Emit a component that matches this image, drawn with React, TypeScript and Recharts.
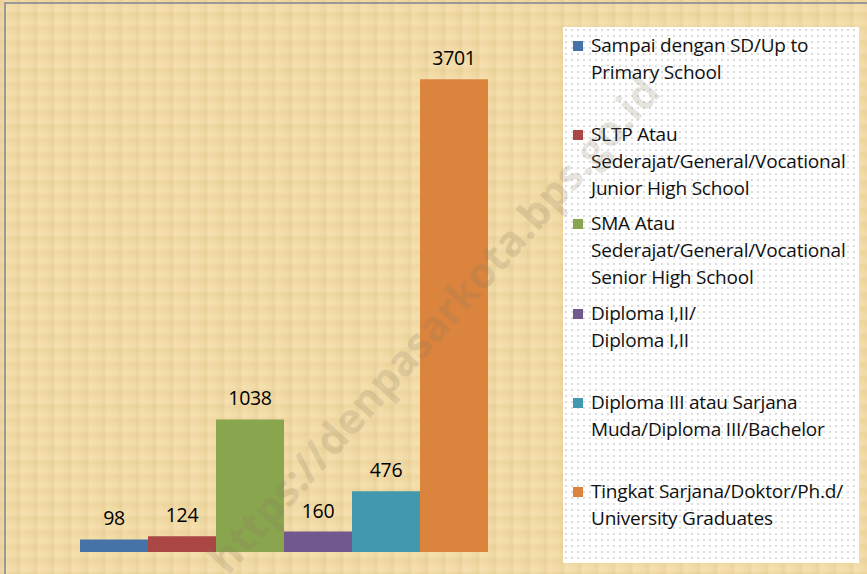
import { Bar, BarChart, LabelList, XAxis, YAxis } from "recharts";

const seriesNames = [
  ["Sampai dengan SD/Up to", "Primary School"],
  ["SLTP Atau", "Sederajat/General/Vocational", "Junior High School"],
  ["SMA Atau", "Sederajat/General/Vocational", "Senior High School"],
  ["Diploma I,II/", "Diploma I,II"],
  ["Diploma III atau Sarjana", "Muda/Diploma III/Bachelor"],
  ["Tingkat Sarjana/Doktor/Ph.d/", "University Graduates"],
];
const seriesKeys = ["sd", "sltp", "sma", "d12", "d3", "s1"];
const seriesValues = [98, 124, 1038, 160, 476, 3701];
const seriesColors = ["#4572a7", "#aa4643", "#89a54e", "#71588f", "#4198af", "#db843d"];

const row: { [k: string]: string | number } = { name: "2020" };
seriesKeys.forEach((k, i) => {
  row[k] = seriesValues[i];
});
const data = [row];

const font = "'Open Sans', 'Noto Sans', sans-serif";

const parchment = [
  "repeating-linear-gradient(90deg, rgba(190,150,80,0.10) 0px, rgba(190,150,80,0.10) 2px, rgba(255,245,215,0.10) 5px, rgba(255,245,215,0.0) 11px, rgba(190,150,80,0.06) 17px)",
  "repeating-linear-gradient(0deg, rgba(190,150,80,0.08) 0px, rgba(255,245,215,0.12) 4px, rgba(190,150,80,0.0) 9px, rgba(190,150,80,0.08) 14px)",
  "#f2dba6",
].join(", ");

export default function App() {
  return (
    <div
      style={{
        position: "absolute",
        left: 0,
        top: 0,
        width: 867,
        height: 574,
        overflow: "hidden",
        background: parchment,
        fontFamily: font,
      }}
    >
      <div
        style={{
          position: "absolute",
          left: 4,
          top: 2,
          width: 900,
          height: 600,
          borderLeft: "2px solid #999",
          borderTop: "2px solid #999",
        }}
      />
      <BarChart
        width={560}
        height={574}
        data={data}
        barGap={0}
        barCategoryGap={0}
        margin={{ top: 41, right: 71, left: 80, bottom: 22 }}
        style={{ position: "absolute", left: 0, top: 0 }}
      >
        <XAxis dataKey="name" hide />
        <YAxis hide domain={[0, 4000]} />
        {seriesKeys.map((k, i) => (
          <Bar key={k} dataKey={k} fill={seriesColors[i]} isAnimationActive={false}>
            <LabelList
              dataKey={k}
              position="top"
              offset={14}
              fill="#000"
              fontSize={19.5}
              fontFamily={font}
              style={{ letterSpacing: -0.3 }}
            />
          </Bar>
        ))}
      </BarChart>
      <div
        style={{
          position: "absolute",
          left: 563,
          top: 27,
          width: 296,
          height: 536,
          background: "#fff",
          backgroundImage: "radial-gradient(#dcdcdc 0.8px, transparent 0.9px)",
          backgroundSize: "6px 6px",
        }}
      >
        {seriesNames.map((lines, i) => (
          <div
            key={i}
            style={{
              position: "absolute",
              left: 10,
              top: 5 + i * 89.2,
              fontSize: 19,
              lineHeight: "27px",
              color: "#111",
              letterSpacing: -0.2,
              whiteSpace: "nowrap",
            }}
          >
            <span
              style={{
                position: "absolute",
                left: 0,
                top: 9,
                width: 10,
                height: 10,
                background: seriesColors[i],
              }}
            />
            {lines.map((l, j) => (
              <div key={j} style={{ paddingLeft: 18 }}>
                {l}
              </div>
            ))}
          </div>
        ))}
      </div>
      <svg
        width={867}
        height={574}
        style={{ position: "absolute", left: 0, top: 0, pointerEvents: "none" }}
      >
        <text
          x={445}
          y={335}
          transform="rotate(-48 445 335)"
          textAnchor="middle"
          fontSize={42}
          fontWeight="bold"
          fontFamily={font}
          fill="#8a7a60"
          opacity={0.2}
        >
          https://denpasarkota.bps.go.id
        </text>
      </svg>
    </div>
  );
}
